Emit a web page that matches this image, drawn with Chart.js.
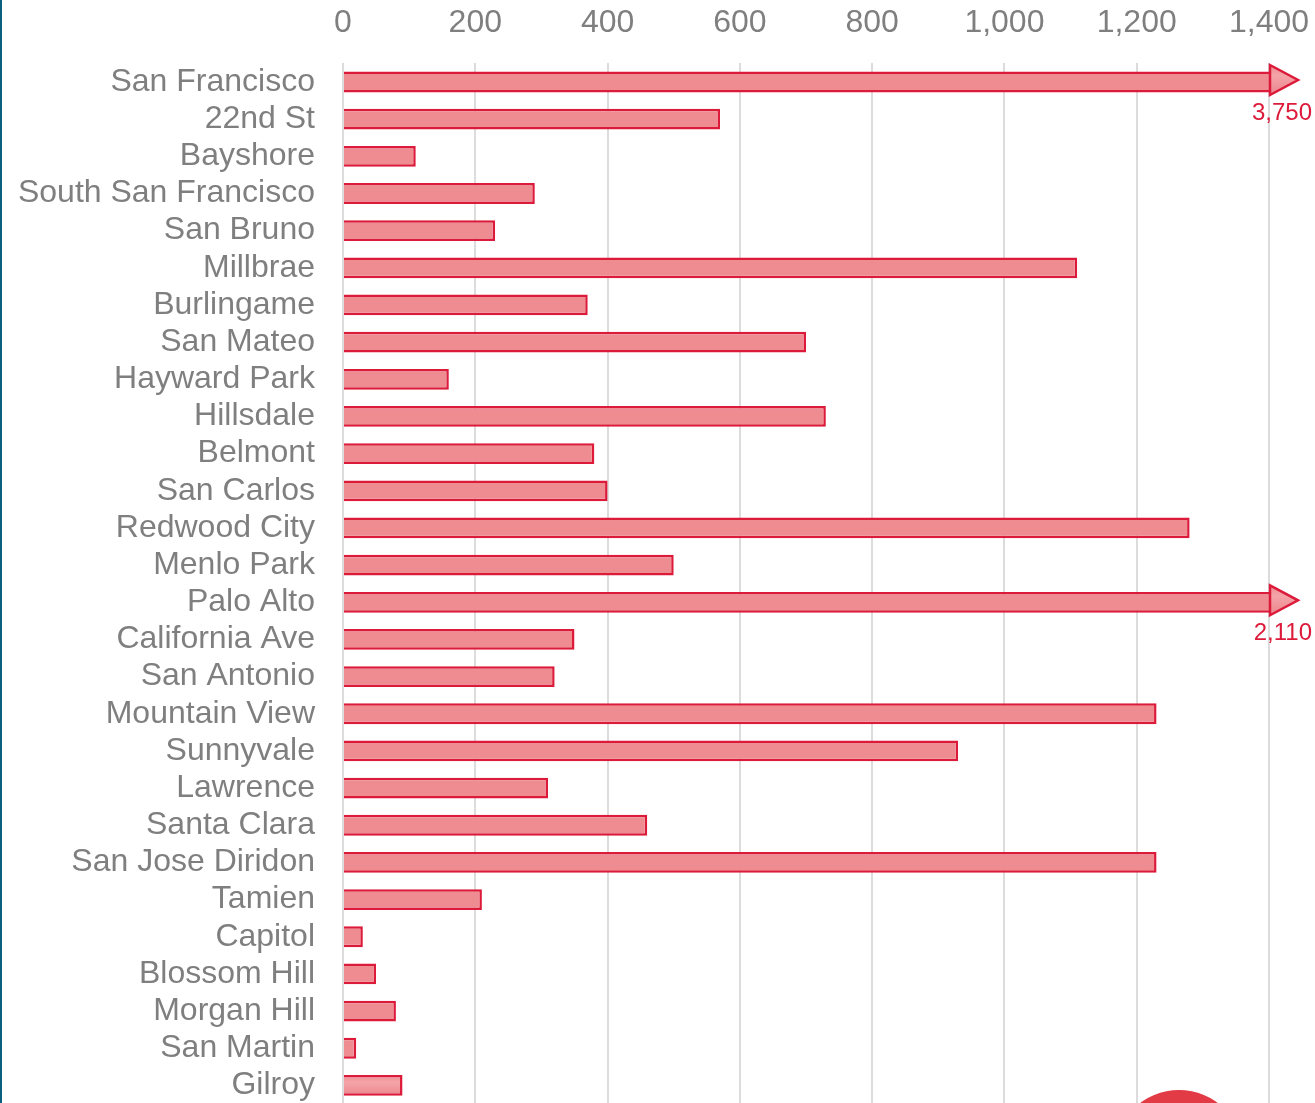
<!DOCTYPE html>
<html>
<head>
<meta charset="utf-8">
<script src="https://cdn.jsdelivr.net/npm/chart.js@4/dist/chart.umd.min.js"></script>
<style>
  html, body { margin: 0; padding: 0; background: #fff; overflow: hidden; }
  /* o canvas sobe um pouco para compensar o espaco extra do topo */
  #wrap { position: absolute; left: 0; top: -19px; width: 1315px; height: 1123px; }
  #edge { position: absolute; left: 0; top: 0; width: 2px; height: 1103px; background: #0b5f80; }
  #dot { position: absolute; left: 1114px; top: 1090px; width: 130px; height: 130px; border-radius: 50%; background: #e23b45; }
</style>
</head>
<body>
<div id="wrap"><canvas id="chartEstacoes"></canvas></div>
<div id="edge"></div>
<div id="dot"></div>
<script>
// estacoes (de cima para baixo)
const stations = [
    'San Francisco', '22nd St', 'Bayshore', 'South San Francisco', 'San Bruno',
    'Millbrae', 'Burlingame', 'San Mateo', 'Hayward Park', 'Hillsdale',
    'Belmont', 'San Carlos', 'Redwood City', 'Menlo Park', 'Palo Alto',
    'California Ave', 'San Antonio', 'Mountain View', 'Sunnyvale', 'Lawrence',
    'Santa Clara', 'San Jose Diridon', 'Tamien', 'Capitol', 'Blossom Hill',
    'Morgan Hill', 'San Martin', 'Gilroy'
];
const riders = [
    3750, 570, 110, 290, 230,
    1110, 370, 700, 160, 730,
    380, 400, 1280, 500, 2110,
    350, 320, 1230, 930, 310,
    460, 1230, 210, 30, 50,
    80, 20, 90
];
const xTicks = [0, 200, 400, 600, 800, 1000, 1200, 1400];
const xMax = 1400;

const red = '#dc1a3a';
const gray = '#7f7f7f';
const fontFamily = '"Liberation Sans", Arial, sans-serif';

// gradiente: bordas um pouco mais escuras, meio mais claro
function pinkGradient(c, top, bottom) {
    const g = c.createLinearGradient(0, top, 0, bottom);
    g.addColorStop(0, '#ee8c92');
    g.addColorStop(0.35, '#f4a4a8');
    g.addColorStop(1, '#eb868d');
    return g;
}

document.addEventListener("DOMContentLoaded", () => {
    const ctx = document.getElementById("chartEstacoes");

    const barGradient = {
        id: 'barGradient',
        beforeDatasetsDraw(chart) {
            const c = chart.ctx;
            chart.getDatasetMeta(0).data.forEach(bar => {
                const h = bar.height;
                bar.options.backgroundColor = pinkGradient(c, bar.y - h / 2, bar.y + h / 2);
            });
        }
    };

    // seta + valor para barras acima do maximo do eixo
    const overflowArrows = {
        id: 'overflowArrows',
        afterDatasetsDraw(chart) {
            const c = chart.ctx;
            const right = chart.chartArea.right + 1;
            const meta = chart.getDatasetMeta(0);
            riders.forEach((v, i) => {
                if (v <= xMax) return;
                const y = meta.data[i].y;
                c.save();
                c.beginPath();
                c.moveTo(right, y - 17);
                c.lineTo(right + 28, y - 2);
                c.lineTo(right, y + 13);
                c.closePath();
                c.fillStyle = pinkGradient(c, y - 17, y + 13);
                c.fill();
                c.lineWidth = 2.5;
                c.strokeStyle = red;
                c.stroke();
                c.font = '24px ' + fontFamily;
                c.fillStyle = red;
                c.textAlign = 'right';
                c.textBaseline = 'alphabetic';
                c.fillText(v.toLocaleString('en-US'), right + 42, y + 38);
                c.restore();
            });
        }
    };

    new Chart(ctx.getContext("2d"), {
        type: 'bar',
        data: {
            labels: stations,
            datasets: [{
                data: riders,
                backgroundColor: '#f0949a',
                borderColor: red,
                borderWidth: 2.5,
                barPercentage: 0.56,
                categoryPercentage: 1
            }]
        },
        options: {
            indexAxis: 'y',
            responsive: true,
            maintainAspectRatio: false,
            animation: false,
            layout: { padding: { top: 2, right: 46, bottom: 0, left: 0 } },
            plugins: {
                legend: { display: false },
                tooltip: { enabled: false }
            },
            scales: {
                x: {
                    position: 'top',
                    min: 0,
                    max: xMax,
                    afterBuildTicks: scale => { scale.ticks = xTicks.map(v => ({ value: v })); },
                    afterFit: scale => { scale.paddingLeft = 0; scale.paddingRight = 0; },
                    border: { display: false },
                    grid: { color: '#dcdcdc', lineWidth: 2, drawTicks: false },
                    ticks: {
                        color: gray,
                        padding: 21,
                        font: { size: 32, family: fontFamily }
                    }
                },
                y: {
                    afterFit: scale => {
                        scale.width = 343;
                        scale.paddingTop = 0;
                        scale.paddingBottom = 0;
                    },
                    border: { display: false },
                    grid: { display: false, drawTicks: false },
                    ticks: {
                        color: gray,
                        padding: 28,
                        autoSkip: false,
                        font: { size: 32, family: fontFamily }
                    }
                }
            }
        },
        plugins: [barGradient, overflowArrows]
    });
});
</script>
</body>
</html>
